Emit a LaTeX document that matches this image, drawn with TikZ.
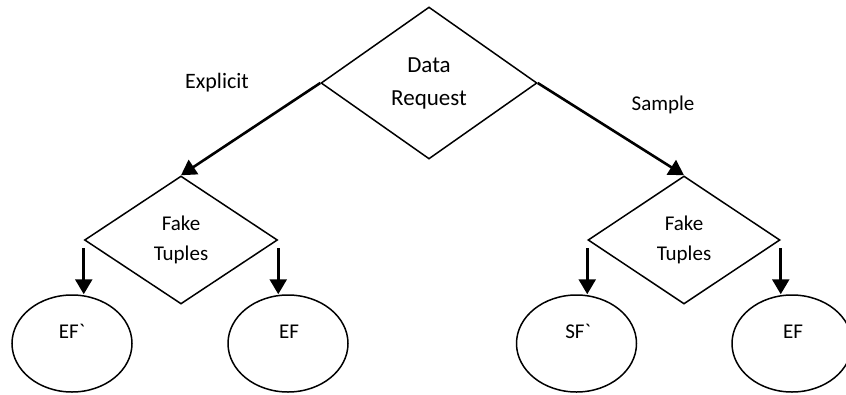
\documentclass[tikz,border=0pt]{standalone}
\usepackage{fontspec}
\newfontfamily\diagfont{Carlito}
\usetikzlibrary{shapes.geometric,arrows.meta}
\begin{document}
\begin{tikzpicture}[x=1pt,y=-1pt,
  decision/.style={draw, diamond, inner sep=0pt, line width=1.5pt, align=center,
    font=\diagfont\fontsize{21}{30}\selectfont},
  leaf/.style={draw, ellipse, inner sep=0pt, minimum width=120pt, minimum height=97pt, line width=1.5pt},
  lbl/.style={font=\diagfont\fontsize{21}{25}\selectfont, inner sep=0pt},
  arr/.style={line width=2.6pt, -{Triangle[length=15pt,width=17pt]}}]
\useasboundingbox (0,0) rectangle (846,394);

% decisions
\node[decision, minimum width=216pt, minimum height=152pt,
  font=\diagfont\fontsize{23}{33}\selectfont] (req) at (429,83) {Data\\Request};
\node[decision, minimum width=193pt, minimum height=128pt] (fl) at (181,240) {Fake\\Tuples};
\node[decision, minimum width=192pt, minimum height=128pt] (fr) at (684,240) {Fake\\Tuples};

% outcomes
\node[leaf] (e1) at (72,343.5) {};
\node[leaf] (e2) at (288,343.5) {};
\node[leaf] (e3) at (576.5,343.5) {};
\node[leaf] (e4) at (792,343.5) {};
\node[lbl, anchor=base] (t1) at ([xshift=0pt,yshift=5pt]e1.center) {EF`};
\node[lbl, anchor=base] (t2) at ([xshift=1pt,yshift=5pt]e2.center) {EF};
\node[lbl, anchor=base] (t3) at ([xshift=1.5pt,yshift=5pt]e3.center) {SF`};
\node[lbl, anchor=base] (t4) at ([xshift=1pt,yshift=5pt]e4.center) {EF};

% branch labels
\node[lbl, anchor=base, font=\diagfont\fontsize{22}{26}\selectfont] (lx) at (217,88) {Explicit};
\node[lbl, anchor=base] (ls) at (663,110) {Sample};

% connectors
\draw[arr] (req.west) -- (fl.north);
\draw[arr] (req.east) -- (fr.north);
\draw[arr] ([yshift=-8pt]fl.west) -- (fl.west |- e1.north);
\draw[arr] ([yshift=-8pt]fl.east) -- (fl.east |- e2.north);
\draw[arr] ([yshift=-8pt]fr.west) -- (fr.west |- e3.north);
\draw[arr] ([yshift=-8pt]fr.east) -- (fr.east |- e4.north);
\end{tikzpicture}
\end{document}
